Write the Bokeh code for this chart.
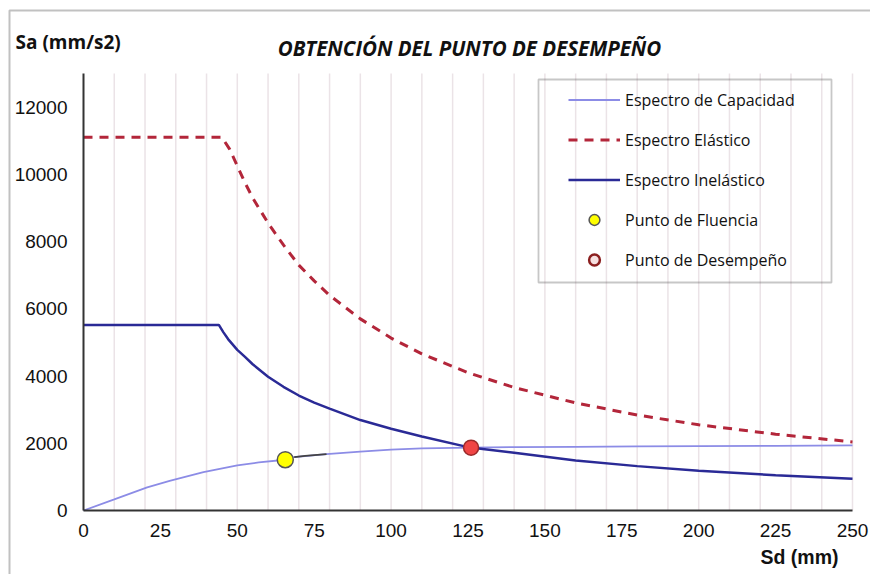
from bokeh.plotting import figure
from bokeh.models import (Range1d, FixedTicker, Label, Legend, LegendItem,
                          BoxAnnotation)
from bokeh.embed import file_html
from bokeh.resources import INLINE

# Espectro de capacidad (Sd en mm, Sa en mm/s2)
cap_sd = [0, 10, 20.7, 28, 39, 50, 57, 65.6, 68.5, 79, 90, 100, 110, 126, 140, 160, 180, 200, 225, 250]
cap_sa = [0, 330, 690, 880, 1140, 1340, 1430, 1510, 1590, 1680, 1750, 1810, 1850, 1870, 1885, 1895, 1905, 1915, 1925, 1935]

# Tramo resaltado a continuación del punto de fluencia
seg_sd = [68.5, 72, 79]
seg_sa = [1590, 1625, 1680]

# Espectro elástico
ela_sd = [0, 45, 47.5, 50, 52.5, 55, 60, 65, 70, 75, 80, 90, 100, 110, 125, 140, 160, 180, 200, 225, 250]
ela_sa = [11100, 11100, 10750, 10250, 9750, 9300, 8550, 7900, 7300, 6830, 6400, 5700, 5130, 4660, 4100, 3660, 3200, 2840, 2550, 2270, 2040]

# Espectro inelástico
ine_sd = [0, 44, 45.5, 47, 50, 52.5, 55, 60, 65, 70, 75, 80, 90, 100, 110, 125, 140, 160, 180, 200, 225, 250]
ine_sa = [5520, 5520, 5300, 5100, 4780, 4570, 4350, 3980, 3680, 3420, 3210, 3030, 2690, 2430, 2200, 1885, 1720, 1490, 1320, 1180, 1050, 945]

# Puntos notables
fluencia = (65.6, 1510)
desempeno = (126, 1870)

x_ticks = [0, 25, 50, 75, 100, 125, 150, 175, 200, 225, 250]
y_ticks = [0, 2000, 4000, 6000, 8000, 10000, 12000]
grid_x = list(range(10, 251, 10))

W, H = 870, 574
# Posición en pantalla del origen y del extremo de los ejes
X0_PX, X1_PX = 83, 852      # Sd = 0 y Sd = 250
Y0_PX, Y1_PX = 510, 73      # Sa = 0 y Sa = 13000
SD_MAX, SA_MAX = 250, 13000

kx = (X1_PX - X0_PX) / SD_MAX
ky = (Y0_PX - Y1_PX) / SA_MAX
x_range = Range1d(-X0_PX / kx, SD_MAX + (W - X1_PX) / kx)
y_range = Range1d(-(H - Y0_PX) / ky, SA_MAX + Y1_PX / ky)


def sx(px):
    return px


def sy(py):
    return H - py


p = figure(width=W, height=H, output_backend="svg", toolbar_location=None,
           x_range=x_range, y_range=y_range,
           min_border_left=0, min_border_right=0,
           min_border_top=0, min_border_bottom=0)
p.title.visible = False
p.outline_line_color = None
p.background_fill_color = "white"
p.border_fill_color = "white"
p.xgrid.visible = False
p.ygrid.visible = False

# Ejes fijos en Sd = 0 y Sa = 0
p.xaxis.fixed_location = 0
p.yaxis.fixed_location = 0
p.xaxis.bounds = (0, SD_MAX)
p.yaxis.bounds = (0, SA_MAX)

for ax in (p.xaxis[0], p.yaxis[0]):
    ax.axis_line_color = "#333333"
    ax.axis_line_width = 2
    ax.major_tick_line_color = None
    ax.minor_tick_line_color = None
    ax.major_tick_out = 0
    ax.major_tick_in = 0
    ax.minor_tick_out = 0
    ax.major_label_text_font = "Liberation Sans"
    ax.major_label_text_font_size = "19px"
    ax.major_label_text_color = "#111111"

p.xaxis.ticker = FixedTicker(ticks=x_ticks)
p.yaxis.ticker = FixedTicker(ticks=y_ticks)
p.xaxis.major_label_standoff = 13
p.yaxis.major_label_standoff = 16

# Líneas verticales de la cuadrícula
p.segment(x0=grid_x, y0=[0] * len(grid_x), x1=grid_x, y1=[SA_MAX] * len(grid_x),
          line_color="#ebe3e7", line_width=1.5)

r_cap = p.line(cap_sd, cap_sa, line_color="#8c8ce6", line_width=1.8)
p.line(seg_sd, seg_sa, line_color="#444444", line_width=1.8)
r_ela = p.line(ela_sd, ela_sa, line_color="#b3263a", line_width=3, line_dash="9 7")
r_ine = p.line(ine_sd, ine_sa, line_color="#2a2a96", line_width=2.5)

# Símbolo de leyenda del punto de desempeño (queda oculto bajo el marcador)
leg_des = p.scatter([desempeno[0]], [desempeno[1]], marker="circle", size=6,
                    fill_color="#f6e0e0", line_color="#8b1f1f", line_width=2.5)
r_flu = p.scatter([fluencia[0]], [fluencia[1]], marker="circle", size=16,
                  fill_color="#ffff00", line_color="#555555", line_width=1.5)
r_des = p.scatter([desempeno[0]], [desempeno[1]], marker="circle", size=15,
                  fill_color="#f04545", line_color="#9a2a2a", line_width=1.5)

ROW_H, ROW_GAP = 27, 13
leg_top = 86
leg_h = 5 * ROW_H + 4 * ROW_GAP
legend = Legend(items=[
    LegendItem(label="Espectro de Capacidad", renderers=[r_cap]),
    LegendItem(label="Espectro Elástico", renderers=[r_ela]),
    LegendItem(label="Espectro Inelástico", renderers=[r_ine]),
    LegendItem(label="Punto de Fluencia", renderers=[r_flu]),
    LegendItem(label="Punto de Desempeño", renderers=[leg_des]),
], location=(sx(568), sy(leg_top) - leg_h))
legend.padding = 0
legend.margin = 0
legend.glyph_width = 52
legend.glyph_height = ROW_H
legend.label_height = ROW_H
legend.spacing = ROW_GAP
legend.label_standoff = 5
legend.label_text_font = "Open Sans"
legend.label_text_font_size = "16px"
legend.label_text_color = "#111111"
legend.border_line_color = None
legend.background_fill_alpha = 0
p.add_layout(legend, "center")

# Marco de la leyenda
p.add_layout(BoxAnnotation(left=sx(538), right=sx(831), top=sy(79), bottom=sy(282),
                           left_units="screen", right_units="screen",
                           top_units="screen", bottom_units="screen",
                           fill_alpha=0, line_color="#444444", line_width=1.8,
                           level="overlay"))

# Marco exterior del gráfico
p.add_layout(BoxAnnotation(left=sx(9), right=sx(W + 20), top=sy(10), bottom=sy(H + 20),
                           left_units="screen", right_units="screen",
                           top_units="screen", bottom_units="screen",
                           fill_alpha=0, line_color="#333333", line_width=2,
                           level="overlay"))

p.add_layout(Label(x=sx(469), y=sy(47), x_units="screen", y_units="screen",
                   text="OBTENCIÓN DEL PUNTO DE DESEMPEÑO", text_align="center",
                   text_baseline="middle", text_font="Open Sans",
                   text_font_style="bold italic", text_font_size="20.5px",
                   text_color="#111111"))
p.add_layout(Label(x=sx(15), y=sy(41), x_units="screen", y_units="screen",
                   text="Sa (mm/s2)", text_align="left", text_baseline="middle",
                   text_font="Open Sans", text_font_style="bold", text_font_size="19px",
                   text_color="#111111"))
p.add_layout(Label(x=sx(760), y=sy(556), x_units="screen", y_units="screen",
                   text="Sd (mm)", text_align="left", text_baseline="middle",
                   text_font="Liberation Sans", text_font_style="bold",
                   text_font_size="19.5px", text_color="#111111"))

open("out.html", "w").write(file_html(p, INLINE))
